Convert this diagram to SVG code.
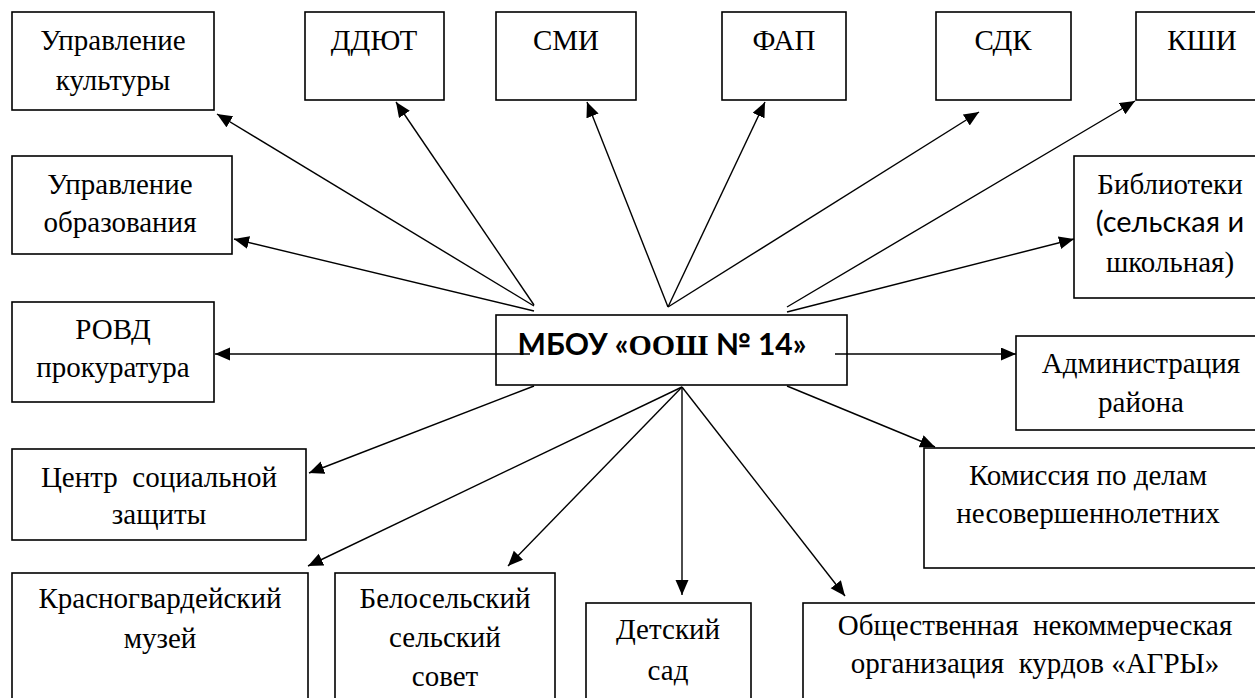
<svg xmlns="http://www.w3.org/2000/svg" width="1255" height="698" viewBox="0 0 1255 698">
<style>
.box{fill:#fff;stroke:#000;stroke-width:1.6}
.t{font-family:'Liberation Serif','Times New Roman',serif;font-size:29px;fill:#000;text-anchor:middle}
.s{font-family:Lato,'Liberation Sans',sans-serif}
.c{stroke:#000;stroke-width:1.4;fill:none;marker-end:url(#ah)}
.b{font-weight:bold;font-size:30px}
</style>
<defs>
<marker id="ah" markerUnits="userSpaceOnUse" markerWidth="16" markerHeight="14" refX="15" refY="6.5" orient="auto">
<path d="M0,0 L15,6.5 L0,13 z" fill="#000"/>
</marker>
</defs>
<rect width="1255" height="698" fill="#fff"/>
<g id="n-upr-kult"><rect class="box" x="12" y="12" width="202" height="98"/><text class="t" x="113" y="50">Управление</text><text class="t" x="113" y="90">культуры</text></g>
<g id="n-ddyut"><rect class="box" x="305" y="12" width="139" height="88"/><text class="t" x="374" y="50">ДДЮТ</text></g>
<g id="n-smi"><rect class="box" x="496" y="12" width="140" height="88"/><text class="t" x="566" y="50">СМИ</text></g>
<g id="n-fap"><rect class="box" x="722" y="12" width="124" height="88"/><text class="t" x="784" y="50">ФАП</text></g>
<g id="n-sdk"><rect class="box" x="936" y="12" width="135" height="88"/><text class="t" x="1003" y="50">СДК</text></g>
<g id="n-kshi"><rect class="box" x="1136" y="12" width="132" height="88"/><text class="t" x="1202" y="50">КШИ</text></g>
<g id="n-upr-obr"><rect class="box" x="12" y="156" width="220" height="98"/><text class="t" x="120" y="194">Управление</text><text class="t" x="120" y="232">образования</text></g>
<g id="n-bibl"><rect class="box" x="1074" y="156" width="196" height="142"/><text class="t" x="1170" y="194">Библиотеки</text><text class="t s" x="1170" y="232">(сельская и</text><text class="t" x="1170" y="272">школьная)</text></g>
<g id="n-rovd"><rect class="box" x="12" y="302" width="202" height="100"/><text class="t" x="113" y="339">РОВД</text><text class="t" x="113" y="377">прокуратура</text></g>
<g id="n-mbou"><rect class="box" x="496" y="315" width="351" height="70"/><text class="t b" x="662" y="355"><tspan class="s">МБОУ «</tspan>ООШ<tspan class="s"> № 14»</tspan></text></g>
<g id="n-admin"><rect class="box" x="1016" y="336" width="254" height="94"/><text class="t" x="1141" y="373">Администрация</text><text class="t" x="1141" y="412">района</text></g>
<g id="n-csz"><rect class="box" x="12" y="449" width="294" height="91"/><text class="t" x="159" y="487" xml:space="preserve">Центр  социальной</text><text class="t" x="159" y="524">защиты</text></g>
<g id="n-kdn"><rect class="box" x="924" y="448" width="346" height="120"/><text class="t" x="1088" y="485">Комиссия по делам</text><text class="t" x="1088" y="523">несовершеннолетних</text></g>
<g id="n-muzey"><rect class="box" x="12" y="573" width="296" height="140"/><text class="t" x="160" y="608">Красногвардейский</text><text class="t" x="160" y="648">музей</text></g>
<g id="n-belsov"><rect class="box" x="335" y="573" width="220" height="140"/><text class="t" x="445" y="608">Белосельский</text><text class="t" x="445" y="647">сельский</text><text class="t" x="445" y="686">совет</text></g>
<g id="n-detsad"><rect class="box" x="586" y="603" width="165" height="110"/><text class="t" x="668" y="639">Детский</text><text class="t" x="668" y="680">сад</text></g>
<g id="n-agry"><rect class="box" x="803" y="603" width="467" height="110"/><text class="t" x="1035" y="635" xml:space="preserve">Общественная  некоммерческая</text><text class="t" x="1035" y="673" xml:space="preserve">организация  курдов «АГРЫ»</text></g>
<g id="connectors">
<line class="c" x1="534" y1="306" x2="217" y2="114"/>
<line class="c" x1="534" y1="311" x2="234" y2="239"/>
<line class="c" x1="534" y1="305" x2="396" y2="102"/>
<line class="c" x1="668" y1="307" x2="587" y2="102"/>
<line class="c" x1="668" y1="307" x2="765" y2="102"/>
<line class="c" x1="668" y1="307" x2="979" y2="112"/>
<line class="c" x1="787" y1="307" x2="1135" y2="101"/>
<line class="c" x1="787" y1="312" x2="1074" y2="239"/>
<line class="c" x1="530" y1="354" x2="215" y2="354"/>
<line class="c" x1="835" y1="354" x2="1016" y2="354"/>
<line class="c" x1="534" y1="386" x2="309" y2="473"/>
<line class="c" x1="682" y1="387" x2="308" y2="566"/>
<line class="c" x1="682" y1="387" x2="508" y2="566"/>
<line class="c" x1="682" y1="387" x2="682" y2="595"/>
<line class="c" x1="682" y1="387" x2="845" y2="596"/>
<line class="c" x1="787" y1="386" x2="935" y2="447"/>
</g>
</svg>
